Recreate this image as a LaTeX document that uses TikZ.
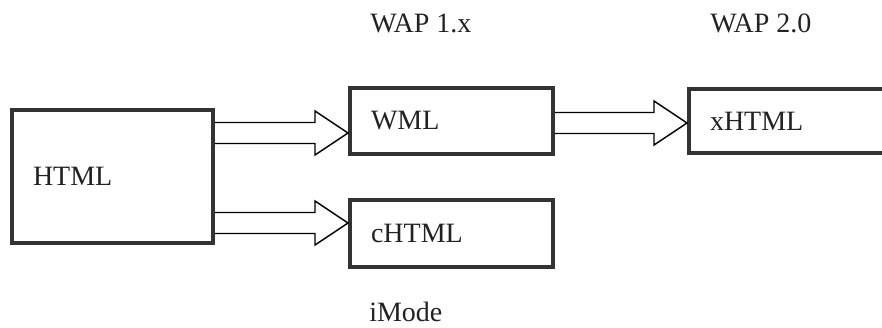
\documentclass[tikz,border=0pt]{standalone}
\usepackage{fontspec}
\setmainfont{Liberation Serif}
\usetikzlibrary{calc}

\definecolor{boxgray}{RGB}{51,51,51}
\definecolor{inkgray}{RGB}{34,34,34}

\tikzset{
	box/.style={draw=boxgray, line width=3pt, rectangle, inner xsep=15.75pt, inner ysep=0pt,
		align=left, text width=120.75pt, text=inkgray, font=\fontsize{21}{25}\selectfont},
	tag/.style={anchor=base west, inner sep=0pt, text=inkgray, font=\fontsize{21}{25}\selectfont},
	% hollow block arrow, drawn from the start point to the target point
	bigarrow/.style={line width=1.1pt, line join=miter, to path={
		let \p1=(\tikztostart), \p2=(\tikztotarget) in
		(\x1,\y2+7.875pt) -- (\x2-24.75pt,\y2+7.875pt) -- (\x2-24.75pt,\y2+16.5pt) -- (\x2,\y2)
		-- (\x2-24.75pt,\y2-16.5pt) -- (\x2-24.75pt,\y2-7.875pt) -- (\x1,\y2-7.875pt)}}
}

\begin{document}
\begin{tikzpicture}[x=0.75pt,y=0.75pt,yscale=-1,xscale=1]
			\clip (0,0) rectangle (882,328);

			%Boxes
			\node [box, text width=119.25pt, minimum width=150.75pt, minimum height=99.75pt] (html) at (112.5,176.5) {HTML};
			\node [box, minimum width=152.25pt, minimum height=49.5pt] (wml) at (451.5,121) {WML};
			\node [box, minimum width=152.25pt, minimum height=50.25pt] (chtml) at (451.5,233.5) {cHTML};
			% right side of this one runs off the page
			\node [box, minimum width=152.25pt, minimum height=48pt] (xhtml) at (790.5,121) {xHTML};

			%Labels
			\node [tag] (wap1) at (370,33) {WAP 1.x};
			\node [tag] (wap2) at (710,33) {WAP 2.0};
			\node [tag] (imode) at (369,321) {iMode};

			%Arrows
			\draw [bigarrow] (html.east) to ($(wml.west)+(0,12)$);
			\draw [bigarrow] (html.east) to ($(chtml.west)+(0,-10.5)$);
			\draw [bigarrow] (wml.east) to ($(xhtml.west)+(0,2)$);
\end{tikzpicture}
\end{document}
